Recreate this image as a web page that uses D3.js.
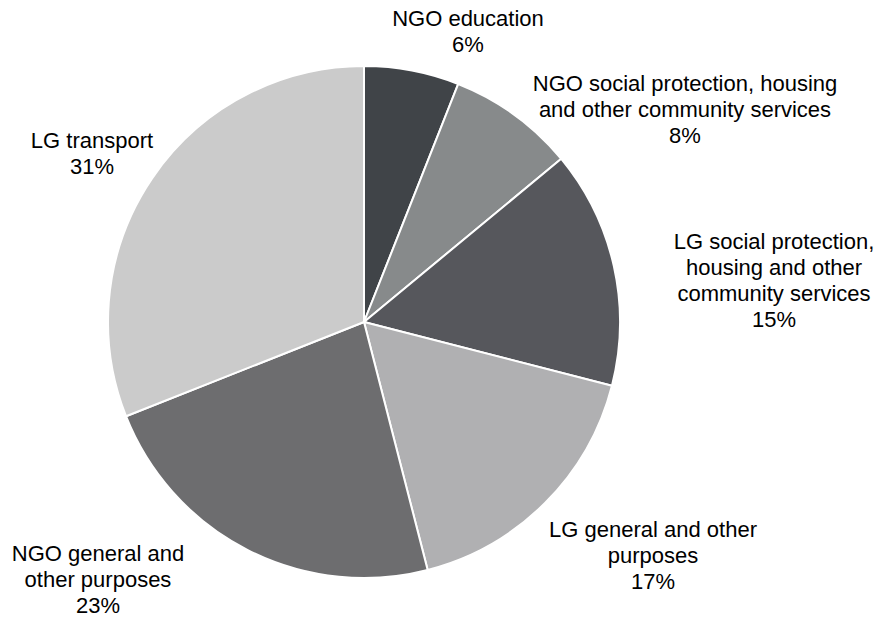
<!DOCTYPE html>
<html>
<head>
<meta charset="utf-8">
<script src="https://cdn.jsdelivr.net/npm/d3@7"></script>
<style>
  html, body { margin: 0; padding: 0; background: #ffffff; }
  svg { display: block; }
  text { font-family: "Liberation Sans", Arial, sans-serif; fill: #000; }
</style>
</head>
<body>
<svg id="chart" width="885" height="618"></svg>
<script>
// ---- data ----
const categories = [
  "NGO education",
  "NGO social protection, housing and other community services",
  "LG social protection, housing and other community services",
  "LG general and other purposes",
  "NGO general and other purposes",
  "LG transport"
];
const values = [6, 8, 15, 17, 23, 31];
const labelLines = [
  ["NGO education", "6%"],
  ["NGO social protection, housing", "and other community services", "8%"],
  ["LG social protection,", "housing and other", "community services", "15%"],
  ["LG general and other", "purposes", "17%"],
  ["NGO general and", "other purposes", "23%"],
  ["LG transport", "31%"]
];
const colors = ["#404448", "#878a8b", "#56575c", "#b0b0b2", "#6d6d6f", "#cbcbcb"];

// ---- layout ----
const W = 885, H = 618;
const cx = 364, cy = 322, R = 256;
// label anchor positions (center x, first line center y)
const labelPos = [
  [468, 18], [685, 83], [774, 241], [653, 529], [98, 553], [92, 140]
];
const lineH = 26;

const svg = d3.select("#chart");
const color = d3.scaleOrdinal().domain(categories).range(colors);

const pie = d3.pie().sort(null).value(d => d.v);
const data = categories.map((c, i) => ({ c, v: values[i], i }));
const arcs = pie(data);
const arc = d3.arc().innerRadius(0).outerRadius(R);

const g = svg.append("g").attr("transform", `translate(${cx},${cy})`);
g.selectAll("path")
  .data(arcs)
  .join("path")
  .attr("d", arc)
  .attr("fill", d => color(d.data.c))
  .attr("stroke", "#ffffff")
  .attr("stroke-width", 2)
  .attr("stroke-linejoin", "round");

const lab = svg.selectAll("text.lbl")
  .data(arcs)
  .join("text")
  .attr("class", "lbl")
  .attr("text-anchor", "middle")
  .attr("font-size", 22);
lab.each(function(d) {
  const [x, y] = labelPos[d.data.i];
  const t = d3.select(this);
  labelLines[d.data.i].forEach((line, k) => {
    t.append("tspan")
      .attr("x", x)
      .attr("y", y + k * lineH)
      .attr("dy", "0.35em")
      .text(line);
  });
});
</script>
</body>
</html>
